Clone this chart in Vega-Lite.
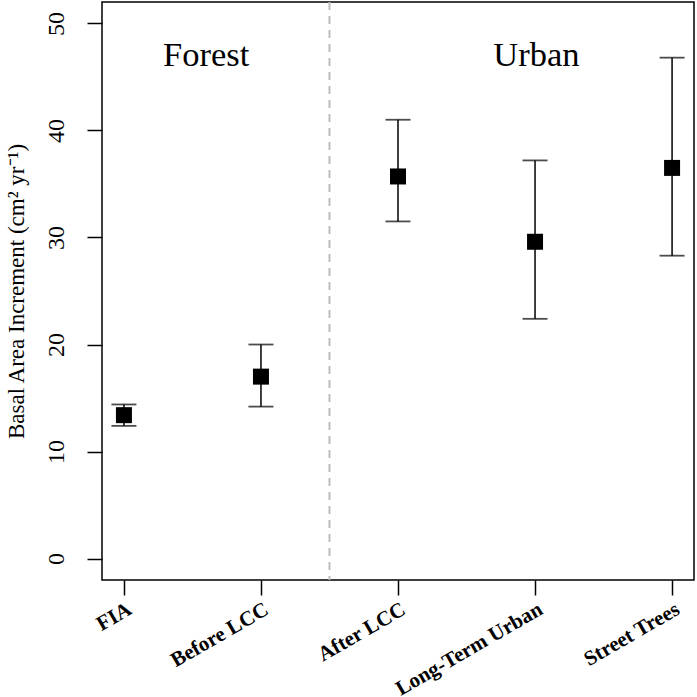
{
  "$schema": "https://vega.github.io/schema/vega-lite/v6.json",
  "width": 592,
  "height": 578,
  "autosize": "none",
  "padding": {"left": 102, "top": 2, "right": 3, "bottom": 117},
  "background": "white",
  "config": {
    "font": "Liberation Serif",
    "view": {"stroke": "black", "strokeWidth": 1.5},
    "axis": {"grid": false, "domain": false, "tickColor": "black", "tickWidth": 1.5, "tickSize": 15, "labelColor": "black", "titleColor": "black", "labelFont": "Liberation Serif", "titleFont": "Liberation Serif"}
  },
  "datasets": {
    "pts": [
      {"group": "FIA", "pos": 1, "mean": 13.4, "lo": 12.4, "hi": 14.4},
      {"group": "Before LCC", "pos": 2, "mean": 17.0, "lo": 14.2, "hi": 20.0},
      {"group": "After LCC", "pos": 3, "mean": 35.7, "lo": 31.5, "hi": 41.0},
      {"group": "Long-Term Urban", "pos": 4, "mean": 29.6, "lo": 22.4, "hi": 37.2},
      {"group": "Street Trees", "pos": 5, "mean": 36.5, "lo": 28.3, "hi": 46.8}
    ],
    "labels": [
      {"label": "Forest", "lx": 1.6, "ly": 47.0},
      {"label": "Urban", "lx": 4.01, "ly": 47.0}
    ]
  },
  "layer": [
    {
      "data": {"values": [{"sep": 2.5}]},
      "mark": {"type": "rule", "color": "#bdbdbd", "strokeWidth": 2, "strokeDash": [8, 6]},
      "encoding": {"x": {"field": "sep", "type": "quantitative", "scale": {"domain": [0.84, 5.16], "nice": false, "zero": false}}}
    },
    {
      "data": {"name": "pts"},
      "mark": {"type": "rule", "color": "black", "strokeWidth": 1.5},
      "encoding": {
        "x": {"field": "pos", "type": "quantitative", "scale": {"domain": [0.84, 5.16], "nice": false, "zero": false},
          "axis": {"values": [1, 2, 3, 4, 5], "title": null, "labelAngle": -30, "labelAlign": "right", "labelBaseline": "top", "labelFontSize": 21, "labelFontWeight": "bold", "labelPadding": 3, "labelOverlap": false, "labelBound": false, "labelFlush": false,
            "labelExpr": "datum.value == 1 ? 'FIA' : datum.value == 2 ? 'Before LCC' : datum.value == 3 ? 'After LCC' : datum.value == 4 ? 'Long-Term Urban' : 'Street Trees'"}},
        "y": {"field": "lo", "type": "quantitative", "scale": {"domain": [-2, 52], "nice": false, "zero": false},
          "axis": {"values": [0, 10, 20, 30, 40, 50], "title": "Basal Area Increment (cm² yr⁻¹)", "titleFontSize": 23, "titleFontWeight": "normal", "titlePadding": 16, "labelFontSize": 24, "labelAngle": 270, "labelAlign": "center", "labelBaseline": "bottom", "labelPadding": 19, "labelOverlap": false}},
        "y2": {"field": "hi"}
      }
    },
    {
      "data": {"name": "pts"},
      "mark": {"type": "tick", "orient": "horizontal", "color": "black", "thickness": 1.8, "size": 25},
      "encoding": {
        "x": {"field": "pos", "type": "quantitative"},
        "y": {"field": "lo", "type": "quantitative"}
      }
    },
    {
      "data": {"name": "pts"},
      "mark": {"type": "tick", "orient": "horizontal", "color": "black", "thickness": 1.8, "size": 25},
      "encoding": {
        "x": {"field": "pos", "type": "quantitative"},
        "y": {"field": "hi", "type": "quantitative"}
      }
    },
    {
      "data": {"name": "pts"},
      "mark": {"type": "square", "color": "black", "filled": true, "opacity": 1, "size": 256},
      "encoding": {
        "x": {"field": "pos", "type": "quantitative"},
        "y": {"field": "mean", "type": "quantitative"}
      }
    },
    {
      "data": {"name": "labels"},
      "mark": {"type": "text", "fontSize": 34.5, "font": "Liberation Serif", "color": "black", "align": "center", "baseline": "middle"},
      "encoding": {
        "x": {"field": "lx", "type": "quantitative"},
        "y": {"field": "ly", "type": "quantitative"},
        "text": {"field": "label"}
      }
    }
  ]
}
